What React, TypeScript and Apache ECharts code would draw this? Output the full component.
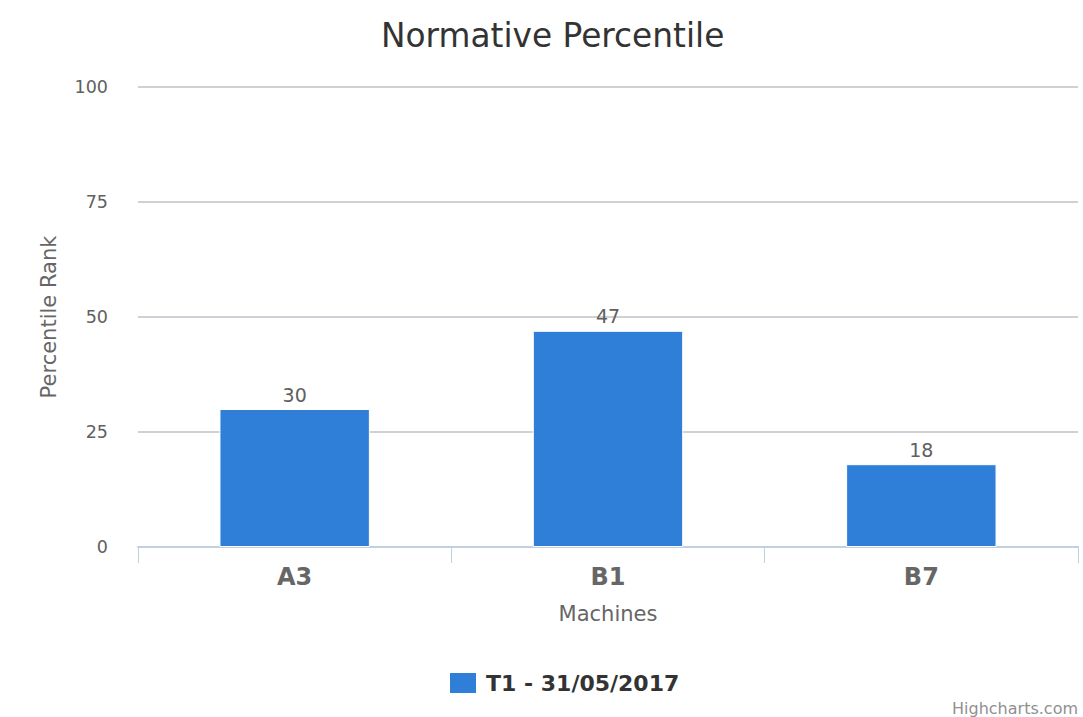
import React, { useEffect, useRef } from "react";
import * as echarts from "echarts";

const categories = ["A3", "B1", "B7"];
const seriesName = "T1 - 31/05/2017";
const values = [30, 47, 18];
const yTicks = [0, 25, 50, 75, 100];

const FONT = "DejaVu Sans";

export default function App() {
  const ref = useRef<HTMLDivElement>(null);
  useEffect(() => {
    if (!ref.current) return;
    const chart = echarts.init(ref.current, undefined, { renderer: "svg" });
    chart.setOption({
      animation: false,
      textStyle: { fontFamily: FONT },
      title: {
        text: "Normative Percentile",
        left: 376,
        top: 14,
        textStyle: { fontFamily: FONT, fontSize: 32.8, fontWeight: "normal", color: "#333333" },
      },
      legend: {
        bottom: 17,
        left: 443,
        itemWidth: 28,
        itemHeight: 22,
        itemGap: 10,
        icon: "rect",
        textStyle: {
          fontFamily: FONT,
          fontSize: 22,
          fontWeight: "bold",
          color: "#333333",
          padding: [0, 0, 0, 4],
        },
        data: [seriesName],
      },
      graphic: [
        {
          type: "text",
          right: 5,
          bottom: 1,
          style: { text: "Highcharts.com", font: `16px ${FONT}`, fill: "#909090" },
        },
      ],
      grid: { left: 138, right: 5, top: 87, bottom: 170 },
      xAxis: {
        type: "category",
        data: categories,
        name: "Machines",
        nameLocation: "middle",
        nameGap: 56,
        nameTextStyle: { fontFamily: FONT, fontSize: 21, color: "#666666" },
        axisLine: { show: true, lineStyle: { color: "#c0d0e0", width: 2 } },
        axisTick: { show: true, length: 16, lineStyle: { color: "#c0d0e0", width: 1 } },
        axisLabel: { fontFamily: FONT, fontSize: 24, fontWeight: "bold", color: "#666666", margin: 18 },
      },
      yAxis: {
        type: "value",
        min: yTicks[0],
        max: yTicks[yTicks.length - 1],
        interval: 25,
        name: "Percentile Rank",
        nameLocation: "middle",
        nameGap: 79,
        nameRotate: 90,
        nameTextStyle: { fontFamily: FONT, fontSize: 21, color: "#666666" },
        axisLine: { show: false },
        axisTick: { show: false },
        axisLabel: { fontFamily: FONT, fontSize: 17.5, color: "#606060", margin: 30 },
        splitLine: { lineStyle: { color: "#c0c0c8", width: 1.5 } },
      },
      series: [
        {
          name: seriesName,
          type: "bar",
          data: values,
          barWidth: "48%",
          itemStyle: { color: "#2f7ed8", borderColor: "#ffffff", borderWidth: 1 },
          label: {
            show: true,
            position: "top",
            distance: 5,
            fontFamily: FONT,
            fontSize: 19,
            color: "#606060",
          },
        },
      ],
    });
    return () => chart.dispose();
  }, []);
  return (
    <div
      ref={ref}
      style={{ position: "fixed", left: 0, top: 0, width: 1083, height: 717, background: "#ffffff" }}
    />
  );
}
